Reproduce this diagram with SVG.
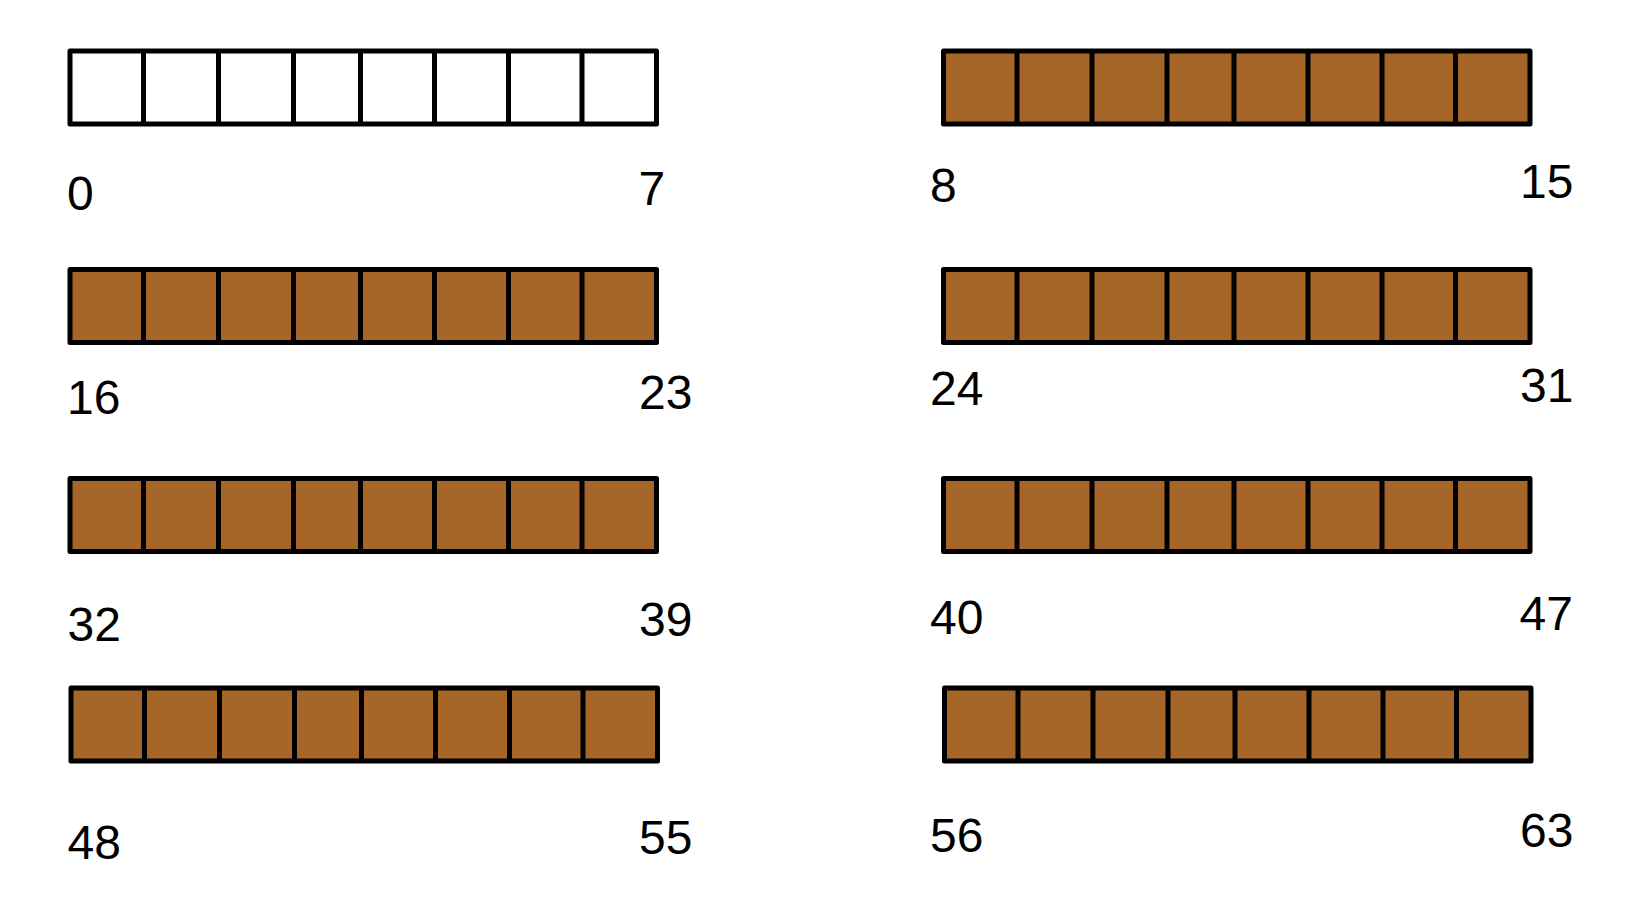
<svg xmlns="http://www.w3.org/2000/svg" width="1638" height="898" viewBox="0 0 1638 898">
  <defs>
    <style>
      .bar { stroke: #000; stroke-width: 5; stroke-linejoin: round; }
      .empty { fill: #ffffff; }
      .full { fill: #A66529; }
      .div { stroke: #000; stroke-width: 5; }
      .lbl { font-family: "Liberation Sans", Arial, sans-serif; font-size: 48px; fill: #000; }
    </style>
    <g id="cells">
      <rect class="bar" x="0" y="0" width="586.5" height="73"/>
      <line class="div" x1="73.5" y1="0" x2="73.5" y2="73"/>
      <line class="div" x1="148.5" y1="0" x2="148.5" y2="73"/>
      <line class="div" x1="223.5" y1="0" x2="223.5" y2="73"/>
      <line class="div" x1="290.5" y1="0" x2="290.5" y2="73"/>
      <line class="div" x1="364.5" y1="0" x2="364.5" y2="73"/>
      <line class="div" x1="438.5" y1="0" x2="438.5" y2="73"/>
      <line class="div" x1="512" y1="0" x2="512" y2="73"/>
    </g>
  </defs>
  <rect width="1638" height="898" fill="#ffffff"/>

  <g id="byte0" class="empty"><use href="#cells" x="70" y="51"/></g>
  <g id="byte1" class="full"><use href="#cells" x="943.5" y="51"/></g>
  <g id="byte2" class="full"><use href="#cells" x="70" y="269.5"/></g>
  <g id="byte3" class="full"><use href="#cells" x="943.5" y="269.5"/></g>
  <g id="byte4" class="full"><use href="#cells" x="70" y="478.5"/></g>
  <g id="byte5" class="full"><use href="#cells" x="943.5" y="478.5"/></g>
  <g id="byte6" class="full"><use href="#cells" x="71" y="688"/></g>
  <g id="byte7" class="full"><use href="#cells" x="944.5" y="688"/></g>

  <g id="labels" class="lbl">
    <text x="67" y="210">0</text>
    <text x="638.5" y="205">7</text>
    <text x="930" y="202">8</text>
    <text x="1520" y="198">15</text>
    <text x="67" y="414">16</text>
    <text x="639" y="409">23</text>
    <text x="930" y="405">24</text>
    <text x="1520" y="402">31</text>
    <text x="67.5" y="641">32</text>
    <text x="639" y="636">39</text>
    <text x="930" y="634">40</text>
    <text x="1519.5" y="630">47</text>
    <text x="67.5" y="859">48</text>
    <text x="639" y="853.5">55</text>
    <text x="930" y="851.5">56</text>
    <text x="1520" y="847">63</text>
  </g>
  <g id="connectors"/>
</svg>
